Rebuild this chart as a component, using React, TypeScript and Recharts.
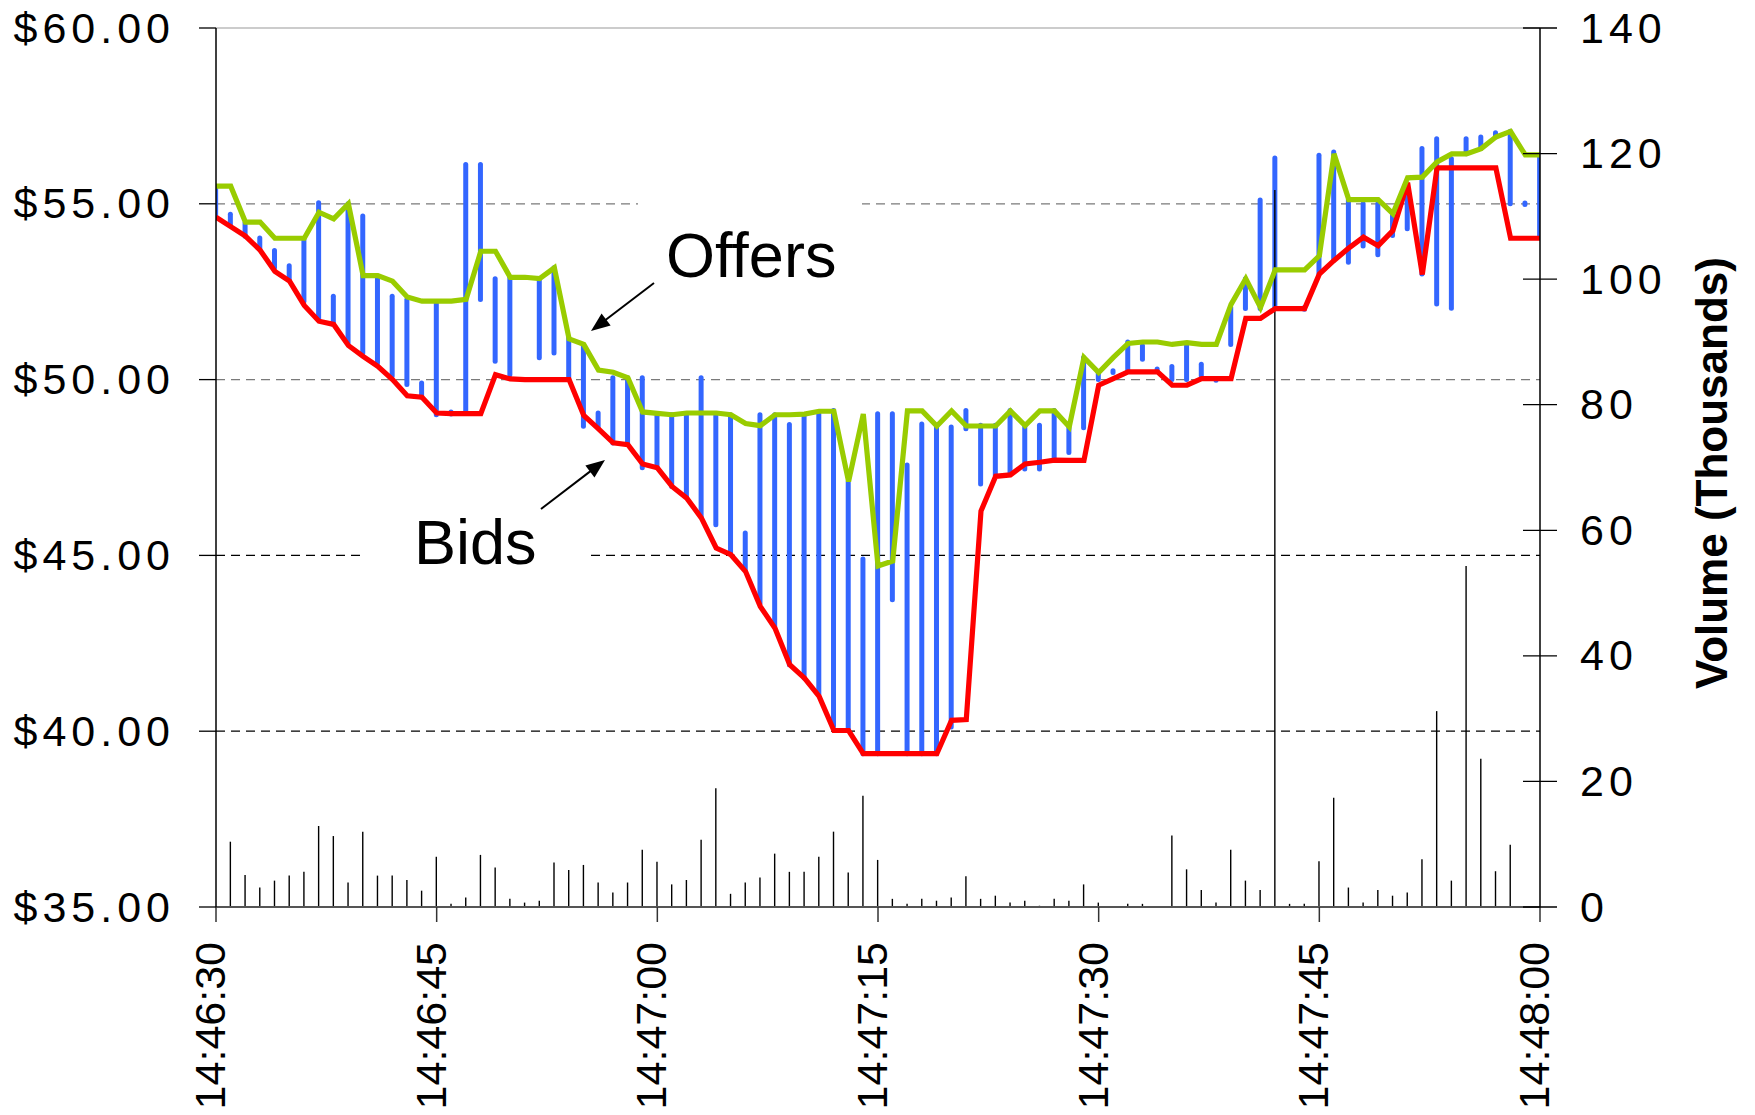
import React from 'react';
import { ComposedChart, Line, Bar, XAxis, YAxis, CartesianGrid } from 'recharts';

const FONT = '"Liberation Sans", Arial, Helvetica, sans-serif';

// Offers (ask) price per second from 14:46:30
const offers = [
  55.5, 55.5, 54.48, 54.48, 54.02, 54.02, 54.02, 54.76, 54.57, 55.0,
  52.96, 52.96, 52.8, 52.35, 52.23, 52.23, 52.23, 52.28, 53.65, 53.65,
  52.91, 52.91, 52.87, 53.18, 51.16, 51.0, 50.27, 50.21, 50.05, 49.08,
  49.04, 49.0, 49.05, 49.05, 49.05, 49.0, 48.75, 48.69, 49.0, 49.0,
  49.02, 49.1, 49.1, 47.1, 49.02, 44.7, 44.84, 49.11, 49.11, 48.68,
  49.11, 48.68, 48.68, 48.68, 49.11, 48.69, 49.11, 49.11, 48.66, 50.63,
  50.2, 50.63, 51.03, 51.07, 51.07, 51.0, 51.05, 51.0, 51.0, 52.14,
  52.87, 52.05, 53.12, 53.12, 53.12, 53.52, 56.42, 55.12, 55.12, 55.12,
  54.72, 55.74, 55.76, 56.19, 56.42, 56.42, 56.57, 56.9, 57.06, 56.39,
  56.39,
];

// Bids price per second
const bids = [
  54.62, 54.35, 54.08, 53.68, 53.08, 52.8, 52.11, 51.66, 51.57, 50.97,
  50.66, 50.38, 50.0, 49.54, 49.5, 49.05, 49.03, 49.03, 49.03, 50.14,
  50.02, 50.0, 50.0, 50.0, 50.0, 48.98, 48.6, 48.2, 48.15, 47.6,
  47.49, 46.96, 46.63, 46.06, 45.21, 45.02, 44.54, 43.55, 42.93, 41.89,
  41.51, 40.99, 40.02, 40.02, 39.36, 39.36, 39.36, 39.36, 39.36, 39.36,
  40.31, 40.33, 46.26, 47.25, 47.29, 47.6, 47.65, 47.71, 47.7, 47.7,
  49.84, 50.03, 50.22, 50.22, 50.22, 49.84, 49.84, 50.03, 50.03, 50.03,
  51.74, 51.74, 52.02, 52.02, 52.02, 53.0, 53.39, 53.74, 54.05, 53.81,
  54.24, 55.6, 52.99, 56.02, 56.02, 56.02, 56.02, 56.02, 54.02, 54.02,
  54.02,
];

// Trade price range (high / low) per second
const highs: (number | null)[] = [
  55.5, 54.7, 54.46, 54.03, 53.67, 53.24, 53.98, 55.03, 52.37, 55.0,
  54.65, 52.9, 52.37, 52.28, 49.9, 52.18, 49.08, 56.12, 56.12, 52.87,
  52.9, null, 52.85, 53.18, 51.2, 50.95, 49.05, 50.05, 50.05, 50.05,
  48.96, 49.0, 49.0, 50.05, 49.0, 49.0, 45.64, 49.0, 49.0, 48.72,
  49.0, 49.03, 49.12, 47.1, 44.9, 49.03, 49.03, 47.57, 48.74, 48.65,
  48.65, 49.12, 48.7, 48.7, 49.12, 48.7, 48.7, 49.12, 48.7, 50.63,
  50.2, 50.25, 51.07, 50.96, 50.3, 50.37, 50.96, 50.44, 50.03, 52.05,
  52.87, 55.11, 56.3, null, 52.05, 56.38, 56.47, 55.12, 55.0, 55.0,
  54.72, 55.52, 56.57, 56.85, 56.28, 56.85, 56.9, 57.02, 57.06, 55.02,
  56.38,
];
const lows: (number | null)[] = [
  54.62, 54.38, 54.08, 53.7, 53.18, 52.85, 52.23, 51.71, 51.57, 51.04,
  50.76, 50.47, 50.1, 49.86, 49.5, 49.0, 49.02, 49.1, 52.28, 50.52,
  50.14, null, 50.62, 50.76, 50.0, 48.67, 48.62, 48.2, 48.15, 47.49,
  47.5, 46.96, 46.68, 46.11, 45.87, 45.07, 44.59, 43.64, 42.98, 41.89,
  41.51, 41.05, 40.15, 40.08, 39.36, 39.36, 43.74, 39.36, 39.36, 39.36,
  40.12, 48.6, 47.03, 47.27, 47.36, 47.46, 47.46, 47.7, 47.93, 48.63,
  50.0, 50.2, 50.22, 50.58, 50.25, 50.0, 50.0, 50.1, 49.98, 51.0,
  52.02, 52.02, 52.02, null, 52.0, 53.0, 53.39, 53.34, 53.8, 53.55,
  54.1, 54.29, 53.0, 52.15, 52.03, 56.42, 56.57, 56.9, 55.0, 54.98,
  54.05,
];

// Volume (thousands) per second
const volumes = [
  0, 10.4, 5.1, 3.1, 4.2, 5.0, 5.6, 12.9, 11.3, 3.9,
  12.0, 5.0, 5.0, 4.3, 2.6, 8.0, 0.5, 1.5, 8.3, 6.3,
  1.3, 0.7, 1.0, 7.1, 5.9, 6.7, 3.9, 2.3, 3.9, 9.1,
  7.2, 3.6, 4.3, 10.7, 18.9, 2.1, 3.9, 4.7, 8.5, 5.6,
  5.6, 8.0, 12.0, 5.5, 17.7, 7.5, 1.3, 0.5, 1.3, 1.0,
  1.5, 4.9, 1.3, 1.8, 0.7, 1.0, 0.2, 1.3, 1.0, 3.6,
  0.7, 0, 0.5, 0.5, 0, 11.4, 6.0, 2.7, 0.7, 9.1,
  4.2, 2.7, 114.2, 0.5, 0.5, 7.3, 17.4, 3.1, 0.7, 2.7,
  1.8, 2.3, 7.6, 31.2, 4.2, 54.3, 23.6, 5.7, 9.9, 0,
  0,
];

const xTickValues = [0, 15, 30, 45, 60, 75, 90];
const xTickLabels = ['14:46:30', '14:46:45', '14:47:00', '14:47:15', '14:47:30', '14:47:45', '14:48:00'];
const priceTicks = [35, 40, 45, 50, 55, 60];
const priceTickLabels = ['$35.00', '$40.00', '$45.00', '$50.00', '$55.00', '$60.00'];
const volumeTicks = [0, 20, 40, 60, 80, 100, 120, 140];

const rows = offers.map((o, i) => ({
  t: i,
  offer: o,
  bid: bids[i],
  range: highs[i] == null || lows[i] == null ? null : [lows[i] as number, highs[i] as number],
  vol: volumes[i],
}));

const XTick = (props: any) => {
  const { x, y, payload } = props;
  const idx = xTickValues.indexOf(payload.value);
  const tx = x + 9;
  const ty = y + 35;
  return (
    <g>
      <line x1={x} x2={x} y1={y} y2={y + 15} stroke="#333" strokeWidth={1.5} />
      <text
        x={tx}
        y={ty}
        transform={`rotate(-90, ${tx}, ${ty})`}
        textAnchor="end"
        fontSize={43}
        fontFamily={FONT}
        fill="#000"
      >
        {idx >= 0 ? xTickLabels[idx] : ''}
      </text>
    </g>
  );
};

const LeftTick = (props: any) => {
  const { x, y, payload } = props;
  const idx = priceTicks.indexOf(payload.value);
  return (
    <g>
      <line x1={x - 17} x2={x} y1={y} y2={y} stroke="#000" strokeWidth={1.3} />
      <text x={x - 41} y={y + 14.5} textAnchor="end" fontSize={43} letterSpacing={5} fontFamily={FONT} fill="#000">
        {idx >= 0 ? priceTickLabels[idx] : ''}
      </text>
    </g>
  );
};

const RightTick = (props: any) => {
  const { x, y, payload } = props;
  return (
    <g>
      <line x1={x - 17} x2={x + 17} y1={y} y2={y} stroke="#000" strokeWidth={1.3} />
      <text x={x + 40} y={y + 14.5} textAnchor="start" fontSize={43} letterSpacing={5} fontFamily={FONT} fill="#000">
        {String(payload.value)}
      </text>
    </g>
  );
};

const RangeShape = (props: any) => {
  const { x, y, width, height, payload } = props;
  if (!payload || payload.range == null) return null;
  const cx = x + width / 2;
  const y1 = Math.min(y, y + height);
  const y2 = Math.max(y, y + height);
  return <line x1={cx} x2={cx} y1={y1} y2={y2} stroke="#3366FF" strokeWidth={5} strokeLinecap="round" />;
};

const VolumeShape = (props: any) => {
  const { x, y, width, height, payload } = props;
  if (!payload || !(payload.vol > 0)) return null;
  const cx = x + width / 2;
  const y1 = Math.min(y, y + height);
  const y2 = Math.max(y, y + height);
  return <line x1={cx} x2={cx} y1={y1} y2={y2} stroke="#000" strokeWidth={1.4} />;
};

const Arrow = ({ x1, y1, x2, y2 }: { x1: number; y1: number; x2: number; y2: number }) => {
  const dx = x2 - x1;
  const dy = y2 - y1;
  const len = Math.sqrt(dx * dx + dy * dy);
  const ux = dx / len;
  const uy = dy / len;
  const hl = 19;
  const hw = 7.5;
  const bx = x2 - ux * hl;
  const by = y2 - uy * hl;
  const p1 = `${x2},${y2}`;
  const p2 = `${bx - uy * hw},${by + ux * hw}`;
  const p3 = `${bx + uy * hw},${by - ux * hw}`;
  return (
    <g>
      <line x1={x1} y1={y1} x2={bx + ux * 2} y2={by + uy * 2} stroke="#000" strokeWidth={2} />
      <polygon points={`${p1} ${p2} ${p3}`} fill="#000" />
    </g>
  );
};

export default function App() {
  return (
    <div style={{ position: 'absolute', left: 0, top: 0, width: 1755, height: 1115, background: '#fff' }}>
      <ComposedChart
        width={1755}
        height={1115}
        data={rows}
        margin={{ top: 28, right: 0, bottom: 0, left: 0 }}
      >
        <CartesianGrid xAxisId="t" yAxisId="p" vertical={false} horizontalValues={[40, 45]} stroke="#000" strokeDasharray="9 6" strokeWidth={1.2} />
        <CartesianGrid xAxisId="t" yAxisId="p" vertical={false} horizontalValues={[50, 55]} stroke="#7a7a7a" strokeDasharray="9 6" strokeWidth={1.2} />
        <CartesianGrid xAxisId="t" yAxisId="p" vertical={false} horizontalValues={[60]} stroke="#9a9a9a" strokeWidth={1.2} />

        <rect x={638} y={190} width={224} height={105} fill="#fff" />
        <text x={666} y={277} fontSize={63} fontFamily={FONT} fill="#000">Offers</text>
        <Arrow x1={654} y1={283} x2={591} y2={331} />
        <rect x={364} y={505} width={226} height={85} fill="#fff" />
        <text x={414} y={564} fontSize={63} fontFamily={FONT} fill="#000">Bids</text>
        <Arrow x1={541} y1={509} x2={605} y2={460} />
        <text
          x={1727}
          y={473}
          transform="rotate(-90, 1727, 473)"
          textAnchor="middle"
          fontSize={44}
          fontWeight="bold"
          fontFamily={FONT}
          fill="#000"
        >
          Volume (Thousands)
        </text>

        <XAxis
          xAxisId="t"
          dataKey="t"
          type="number"
          domain={[0, 90]}
          ticks={xTickValues}
          interval={0}
          height={208}
          tickSize={0}
          tickMargin={0}
          tickLine={false}
          axisLine={{ stroke: '#555', strokeWidth: 2 }}
          tick={<XTick />}
          allowDataOverflow
        />
        <XAxis xAxisId="v" dataKey="t" type="number" domain={[0, 90]} hide allowDataOverflow />
        <YAxis
          yAxisId="p"
          orientation="left"
          domain={[35, 60]}
          ticks={priceTicks}
          interval={0}
          width={216}
          tickSize={0}
          tickMargin={0}
          tickLine={false}
          axisLine={{ stroke: '#000', strokeWidth: 1.5 }}
          tick={<LeftTick />}
          allowDataOverflow
        />
        <YAxis
          yAxisId="v"
          orientation="right"
          domain={[0, 140]}
          ticks={volumeTicks}
          interval={0}
          width={215}
          tickSize={0}
          tickMargin={0}
          tickLine={false}
          axisLine={{ stroke: '#000', strokeWidth: 1.5 }}
          tick={<RightTick />}
          allowDataOverflow
        />

        <Bar xAxisId="t" yAxisId="p" dataKey="range" barSize={4} shape={<RangeShape />} isAnimationActive={false} />
        <Bar xAxisId="v" yAxisId="v" dataKey="vol" barSize={2} shape={<VolumeShape />} isAnimationActive={false} />
        <Line xAxisId="t" yAxisId="p" type="linear" dataKey="bid" stroke="#FF0000" strokeWidth={5.2} dot={false} activeDot={false} isAnimationActive={false} />
        <Line xAxisId="t" yAxisId="p" type="linear" dataKey="offer" stroke="#99CC00" strokeWidth={5.2} dot={false} activeDot={false} isAnimationActive={false} />
      </ComposedChart>
    </div>
  );
}
